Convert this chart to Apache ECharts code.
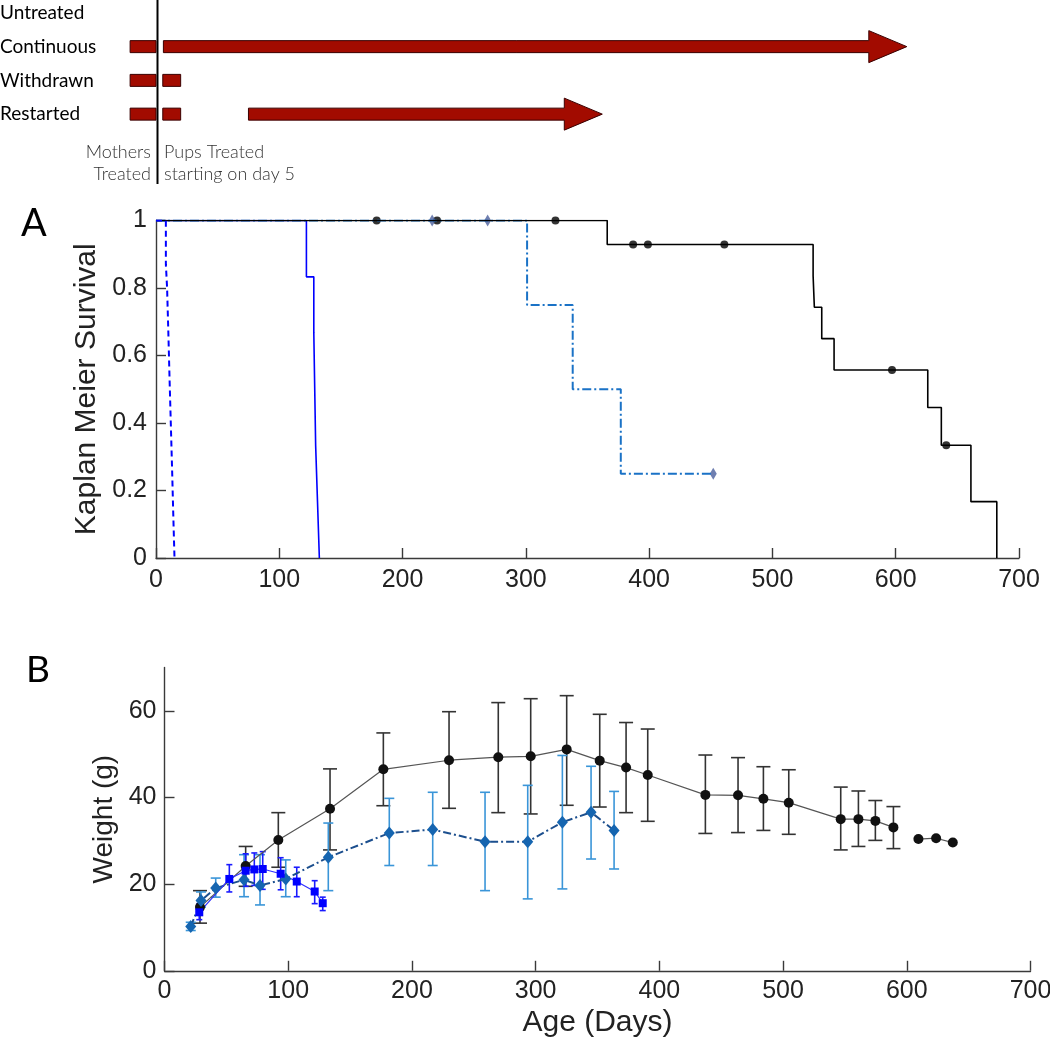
<!DOCTYPE html>
<html>
<head>
<meta charset="utf-8">
<script src="https://cdn.jsdelivr.net/npm/echarts@6/dist/echarts.min.js"></script>
<style>
  html, body { margin: 0; padding: 0; background: #fff; }
  #main { width: 1050px; height: 1043px; }
</style>
</head>
<body>
<div id="main"></div>
<script>
// treatment schedule (days, same scale as panel A)
var groups = ['Untreated', 'Continuous', 'Withdrawn', 'Restarted'];
// [row, start day, end day, arrow?]
var schedule = [
  [1, -21, 0, 0], [1, 6, 609, 1],
  [2, -21, 0, 0], [2, 5.5, 20, 0],
  [3, -21, 0, 0], [3, 5.5, 20, 0], [3, 75, 362, 1]
];

// panel A: Kaplan Meier steps [day, survival]
var kmUntreated = [[0, 1], [8, 0.87], [9, 0.8], [10, 0.67], [11, 0.53], [12, 0.4], [13, 0.27], [14, 0.13], [15, 0]];
var kmWithdrawn = [[0, 1], [122, 0.833], [128, 0.667], [129.5, 0.333], [131, 0.167], [132.5, 0]];
var kmRestarted = [[0, 1], [301, 0.75], [338, 0.5], [377, 0.25], [452, 0.25]];
var kmContinuous = [[0, 1], [366, 0.929], [533, 0.836], [534, 0.743], [540, 0.65], [550, 0.557], [626, 0.446], [637, 0.334], [661, 0.167], [682, 0]];
var censorContinuous = [[179, 1], [228, 1], [324, 1], [387, 0.929], [399, 0.929], [461, 0.929], [597, 0.557], [641, 0.334]];
var censorRestarted = [[224, 1], [269, 1], [452, 0.25]];

// panel B: weights
var blackDays = [28.7, 65.6, 92, 133.8, 176.9, 230, 269.8, 296, 325.1, 351.8, 373.1, 390.6, 437.2, 463.6, 484.1, 504.6, 546.6, 560.9, 574.6, 589.2];
var blackMean = [14.7, 24.2, 30.2, 37.4, 46.5, 48.6, 49.3, 49.5, 51.1, 48.5, 46.9, 45.2, 40.6, 40.5, 39.7, 38.8, 35, 35, 34.6, 33.1];
var blackLow = [11, 19.5, 23.9, 27.9, 38.1, 37.5, 36.5, 36.2, 38.2, 37.8, 36.5, 34.5, 31.7, 31.9, 32.4, 31.5, 27.9, 28.7, 30.1, 28.2];
var blackHigh = [18.5, 28.7, 36.5, 46.6, 54.9, 59.8, 61.9, 62.8, 63.5, 59.2, 57.3, 55.8, 49.8, 49.2, 47.1, 46.4, 42.4, 41.5, 39.3, 37.9];
var blackLateDays = [609.4, 623.7, 637.2];
var blackLateMean = [30.4, 30.6, 29.6];

var squareDays = [28.1, 52.4, 65.6, 72.6, 79.4, 93.9, 106.9, 121.4, 127.9];
var squareMean = [13.5, 21.2, 23.1, 23.4, 23.5, 22.4, 20.6, 18.3, 15.6];
var squareLow = [11.8, 18.2, 19.5, 19.7, 18.8, 18.7, 17.1, 15.5, 13.9];
var squareHigh = [15.5, 24.5, 27, 27.2, 27.5, 26.1, 23.9, 20.8, 17];

var diamondDays = [21.2, 29.5, 41.4, 64.3, 77.2, 98, 132.4, 181.7, 216.8, 259.1, 293.6, 321.6, 344.8, 363.4];
var diamondMean = [10.2, 16.2, 19.1, 21, 19.7, 21.2, 26.2, 31.8, 32.6, 29.8, 29.8, 34.3, 36.6, 32.4];
var diamondLow = [9.3, 14.7, 17, 17.1, 15.2, 17.1, 18.5, 24.3, 24.3, 18.5, 16.6, 18.9, 25.8, 23.5];
var diamondHigh = [11.2, 18.2, 21.4, 26.8, 26.8, 25.6, 34.1, 39.8, 41.2, 41.2, 42.8, 49.7, 47.2, 41.4];

var FONT = '"Liberation Sans", Arial, sans-serif';
var chart = echarts.init(document.getElementById('main'));

function pairs(xs, ys) {
  return xs.map(function (x, i) { return [x, ys[i]]; });
}
function triples(xs, lo, hi) {
  return xs.map(function (x, i) { return [x, lo[i], hi[i]]; });
}

function renderSchedule(params, api) {
  var row = api.value(0);
  var p0 = api.coord([api.value(1), row]);
  var p1 = api.coord([api.value(2), row]);
  var style = { fill: '#a20b00', stroke: '#3a0000', lineWidth: 1 };
  if (!api.value(3)) {
    return { type: 'rect', shape: { x: p0[0], y: p0[1] - 6, width: p1[0] - p0[0], height: 12 }, style: style };
  }
  var xe = p1[0] - 38, y = p0[1];
  return {
    type: 'polygon',
    shape: { points: [[p0[0], y - 6], [xe, y - 6], [xe, y - 16], [p1[0], y], [xe, y + 16], [xe, y + 6], [p0[0], y + 6]] },
    style: style
  };
}

function errorBar(cap, color) {
  return function (params, api) {
    var top = api.coord([api.value(0), api.value(2)]);
    var bot = api.coord([api.value(0), api.value(1)]);
    var h = cap / 2;
    var st = { stroke: color, lineWidth: 1.6 };
    return {
      type: 'group',
      children: [
        { type: 'line', shape: { x1: top[0], y1: top[1], x2: bot[0], y2: bot[1] }, style: st },
        { type: 'line', shape: { x1: top[0] - h, y1: top[1], x2: top[0] + h, y2: top[1] }, style: st },
        { type: 'line', shape: { x1: bot[0] - h, y1: bot[1], x2: bot[0] + h, y2: bot[1] }, style: st }
      ]
    };
  };
}

var axisLineStyle = { color: '#3a3a3a', width: 1.4 };
var tickLabel = { fontFamily: FONT, fontSize: 25, color: '#222' };
var gillish = 'Lato, "Open Sans", sans-serif';

var option = {
  animation: false,
  backgroundColor: '#fff',
  grid: [
    { left: 156, width: 863, top: -4, height: 135, outerBoundsMode: 'none' },
    { left: 156, width: 863, top: 220.5, height: 337.5, outerBoundsMode: 'none' },
    { left: 164.5, width: 866, top: 667.5, height: 303.3, outerBoundsMode: 'none' }
  ],
  xAxis: [
    { gridIndex: 0, type: 'value', min: 0, max: 700, show: false },
    {
      gridIndex: 1, type: 'value', min: 0, max: 700, interval: 100,
      axisLine: { lineStyle: axisLineStyle },
      axisTick: { inside: true, length: 10, lineStyle: axisLineStyle },
      axisLabel: Object.assign({ margin: 10 }, tickLabel),
      splitLine: { show: false }
    },
    {
      gridIndex: 2, type: 'value', min: 0, max: 700, interval: 100,
      name: 'Age (Days)', nameLocation: 'middle', nameGap: 37,
      nameTextStyle: { fontFamily: FONT, fontSize: 30, color: '#222' },
      axisLine: { lineStyle: axisLineStyle },
      axisTick: { inside: true, length: 10, lineStyle: axisLineStyle },
      axisLabel: Object.assign({ margin: 8 }, tickLabel),
      splitLine: { show: false }
    }
  ],
  yAxis: [
    {
      gridIndex: 0, type: 'category', data: groups, inverse: true,
      axisLine: { show: false }, axisTick: { show: false }, splitLine: { show: false },
      axisLabel: { align: 'left', margin: 156, fontFamily: gillish, fontSize: 19, color: '#000' }
    },
    {
      gridIndex: 1, type: 'value', min: 0, max: 1, interval: 0.2,
      name: 'Kaplan Meier Survival', nameLocation: 'middle', nameGap: 46,
      nameTextStyle: { fontFamily: FONT, fontSize: 30, color: '#222' },
      axisLine: { show: true, lineStyle: axisLineStyle },
      axisTick: { show: true, inside: true, length: 10, lineStyle: axisLineStyle },
      axisLabel: Object.assign({ margin: 9 }, tickLabel),
      splitLine: { show: false }
    },
    {
      gridIndex: 2, type: 'value', min: 0, max: 70,
      name: 'Weight (g)', nameLocation: 'middle', nameGap: 39,
      nameTextStyle: { fontFamily: FONT, fontSize: 28, color: '#222' },
      axisLine: { show: true, lineStyle: axisLineStyle },
      axisTick: { show: true, inside: true, length: 10, lineStyle: axisLineStyle, customValues: [0, 20, 40, 60] },
      axisLabel: Object.assign({ margin: 8, customValues: [0, 20, 40, 60] }, tickLabel),
      splitLine: { show: false }
    }
  ],
  graphic: [
    { type: 'line', shape: { x1: 157.5, y1: 0, x2: 157.5, y2: 184 }, style: { stroke: '#000', lineWidth: 2 } },
    { type: 'text', x: 151, y: 152, style: { text: 'Mothers', align: 'right', verticalAlign: 'middle', font: '300 18px Lato, sans-serif', fill: '#333' } },
    { type: 'text', x: 151, y: 174, style: { text: 'Treated', align: 'right', verticalAlign: 'middle', font: '300 18px Lato, sans-serif', fill: '#333' } },
    { type: 'text', x: 164, y: 152, style: { text: 'Pups Treated', align: 'left', verticalAlign: 'middle', font: '300 18px Lato, sans-serif', fill: '#333' } },
    { type: 'text', x: 164, y: 174, style: { text: 'starting on day 5', align: 'left', verticalAlign: 'middle', font: '300 18px Lato, sans-serif', fill: '#333' } },
    { type: 'text', x: 21, y: 224, style: { text: 'A', verticalAlign: 'middle', font: '38px Lato, sans-serif', fill: '#000' } },
    { type: 'text', x: 26, y: 670, style: { text: 'B', verticalAlign: 'middle', font: '37px Lato, sans-serif', fill: '#000' } }
  ],
  series: [
    {
      type: 'custom', xAxisIndex: 0, yAxisIndex: 0, clip: false,
      renderItem: renderSchedule, encode: { x: [1, 2], y: 0 }, data: schedule
    },
    // panel A
    {
      type: 'line', xAxisIndex: 1, yAxisIndex: 1, step: 'end', showSymbol: false,
      lineStyle: { color: '#0000ff', width: 1.6 }, data: kmWithdrawn
    },
    {
      type: 'line', xAxisIndex: 1, yAxisIndex: 1, step: 'end', showSymbol: false,
      lineStyle: { color: '#1a72c6', width: 2, type: [9, 3, 2, 3] }, data: kmRestarted
    },
    {
      type: 'line', xAxisIndex: 1, yAxisIndex: 1, step: 'end', showSymbol: false,
      lineStyle: { color: '#000', width: 1.6 }, data: kmContinuous
    },
    {
      type: 'line', xAxisIndex: 1, yAxisIndex: 1, step: 'end', showSymbol: false,
      lineStyle: { color: '#0000ff', width: 2, type: [6, 4] }, data: kmUntreated
    },
    {
      type: 'scatter', xAxisIndex: 1, yAxisIndex: 1, symbol: 'circle', symbolSize: 8,
      itemStyle: { color: '#000' }, data: censorContinuous
    },
    {
      type: 'scatter', xAxisIndex: 1, yAxisIndex: 1, symbol: 'diamond', symbolSize: [7, 12],
      itemStyle: { color: '#4b5f9c' }, data: censorRestarted
    },
    // panel B
    {
      type: 'custom', xAxisIndex: 2, yAxisIndex: 2, renderItem: errorBar(14, '#333'),
      encode: { x: 0, y: [1, 2] }, data: triples(blackDays, blackLow, blackHigh)
    },
    {
      type: 'line', xAxisIndex: 2, yAxisIndex: 2, symbol: 'circle', symbolSize: 10,
      lineStyle: { color: '#555', width: 1.2 }, itemStyle: { color: '#111' },
      data: pairs(blackDays, blackMean)
    },
    {
      type: 'line', xAxisIndex: 2, yAxisIndex: 2, symbol: 'circle', symbolSize: 10,
      lineStyle: { color: '#555', width: 1.2 }, itemStyle: { color: '#111' },
      data: pairs(blackLateDays, blackLateMean)
    },
    {
      type: 'custom', xAxisIndex: 2, yAxisIndex: 2, renderItem: errorBar(10, '#3a95d8'),
      encode: { x: 0, y: [1, 2] }, data: triples(diamondDays, diamondLow, diamondHigh)
    },
    {
      type: 'line', xAxisIndex: 2, yAxisIndex: 2, symbol: 'diamond', symbolSize: [11, 13],
      lineStyle: { color: '#1c4f8e', width: 2, type: [8, 3, 2, 3] }, itemStyle: { color: '#1565b0' },
      data: pairs(diamondDays, diamondMean)
    },
    {
      type: 'custom', xAxisIndex: 2, yAxisIndex: 2, renderItem: errorBar(6, '#1a1aff'),
      encode: { x: 0, y: [1, 2] }, data: triples(squareDays, squareLow, squareHigh)
    },
    {
      type: 'line', xAxisIndex: 2, yAxisIndex: 2, symbol: 'rect', symbolSize: 8,
      lineStyle: { color: '#3030ff', width: 1.2 }, itemStyle: { color: '#0000ff' },
      data: pairs(squareDays, squareMean)
    }
  ]
};

chart.setOption(option);
</script>
</body>
</html>
